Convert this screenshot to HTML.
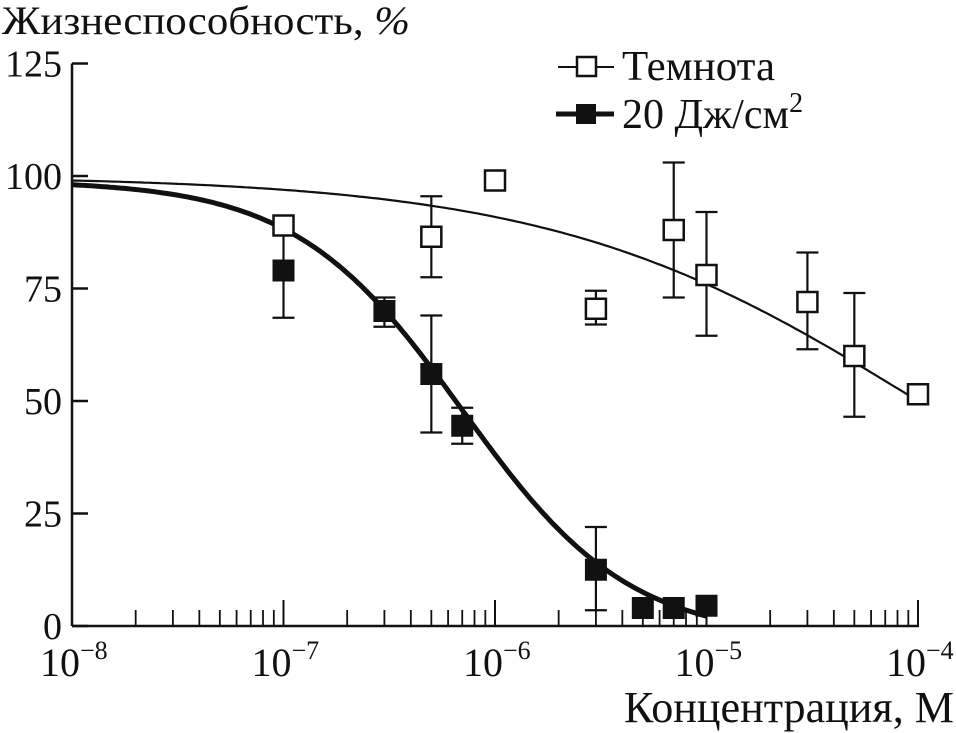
<!DOCTYPE html>
<html><head><meta charset="utf-8"><style>
html,body{margin:0;padding:0;background:#fff;}
svg{display:block;font-family:"Liberation Serif",serif;}
</style></head><body>
<svg id="chart" width="956" height="733" viewBox="0 0 956 733" xmlns="http://www.w3.org/2000/svg">
<text x="2" y="34" font-size="40" fill="#111" textLength="408" lengthAdjust="spacingAndGlyphs">Жизнеспособность, <tspan font-style="italic">%</tspan></text>
<text x="954" y="722" font-size="44" fill="#111" text-anchor="end" textLength="330" lengthAdjust="spacingAndGlyphs">Концентрация, М</text>
<g id="axes"></g>
<g id="curves"></g>
<g id="marks"></g>
<g>
  <g>
    <line x1="558" y1="67" x2="614" y2="67" stroke="#111" stroke-width="2"/>
    <rect x="577" y="57" width="19" height="19" fill="#fff" stroke="#111" stroke-width="2.5"/>
    <text x="622" y="80" font-size="42" fill="#111" textLength="153" lengthAdjust="spacingAndGlyphs">Темнота</text>
  </g>
  <g>
    <line x1="556" y1="114" x2="614" y2="114" stroke="#111" stroke-width="5"/>
    <rect x="576" y="104" width="20" height="20" fill="#111"/>
    <text x="622" y="128" font-size="42" fill="#111">20 Дж/см<tspan font-size="28" dy="-16">2</tspan></text>
  </g>
</g>
</svg>
<script>
const darkX = [1e-7, 5e-7, 1e-6, 3e-6, 7e-6, 1e-5, 3e-5, 5e-5, 1e-4];
const darkY = [89, 86.5, 99, 70.5, 88, 78, 72, 60, 51.5];
const darkLo = [null, 77.5, null, 67, 73, 64.5, 61.5, 46.5, null];
const darkHi = [null, 95.5, null, 74.5, 103, 92, 83, 74, null];
const lightX = [1e-7, 3e-7, 5e-7, 7e-7, 3e-6, 5e-6, 7e-6, 1e-5];
const lightY = [79, 70, 56, 44.5, 12.5, 4, 4, 4.5];
const lightLo = [68.5, 66.5, 43, 40.5, 3.5, null, null, null];
const lightHi = [89, 73, 69, 48.5, 22, null, null, null];
const yTicks = [0, 25, 50, 75, 100, 125];
const xDecades = [-8, -7, -6, -5, -4];

const NS = "http://www.w3.org/2000/svg";
const X0 = 72, X1 = 918, Y0 = 626, PY = 4.5;
const sx = v => X0 + (Math.log10(v) + 8) / 4 * (X1 - X0);
const sy = v => Y0 - v * PY;
function mk(tag, attrs, parent) {
  const e = document.createElementNS(NS, tag);
  for (const k in attrs) e.setAttribute(k, attrs[k]);
  parent.appendChild(e);
  return e;
}
const axes = document.getElementById('axes');
let yl = mk('line', {x1: X0, y1: sy(125), x2: X0, y2: Y0, stroke: '#111', 'stroke-width': 2.5}, axes);


let xl = mk('line', {x1: X0, y1: Y0, x2: X1 + 1, y2: Y0, stroke: '#111', 'stroke-width': 2.5}, axes);


yTicks.forEach(t => {
  mk('line', {x1: X0, y1: sy(t), x2: X0 + 16, y2: sy(t), stroke: '#111', 'stroke-width': 2.5}, axes);
  const tx = mk('text', {x: X0 - 10, y: sy(t) + 13, 'font-size': 38, 'text-anchor': 'end', fill: '#111'}, axes);
  tx.textContent = t;
  
  
});
xDecades.forEach((d, i) => {
  const x = sx(Math.pow(10, d));
  mk('line', {x1: x, y1: Y0, x2: x, y2: Y0 - 26, stroke: '#111', 'stroke-width': 2}, axes);
  const tx = mk('text', {x: x - 32, y: Y0 + 50, 'font-size': 40, fill: '#111'}, axes);
  tx.textContent = '10';
  
  
  const sp = mk('tspan', {'font-size': 26, dy: -17}, tx);
  sp.textContent = '\u2212' + (-d);
  if (i < xDecades.length - 1) {
    for (let m = 2; m <= 9; m++) {
      const xm = sx(m * Math.pow(10, d));
      mk('line', {x1: xm, y1: Y0, x2: xm, y2: Y0 - 16, stroke: '#111', 'stroke-width': 1.8}, axes);
    }
  }
});
const curves = document.getElementById('curves');
function pathFn(f, a, b) {
  let s = '';
  for (let i = 0; i <= 200; i++) {
    const lx = a + (b - a) * i / 200, v = f(Math.pow(10, lx));
    s += (i ? 'L' : 'M') + sx(Math.pow(10, lx)).toFixed(1) + ',' + sy(v).toFixed(1);
  }
  return s;
}
const darkFit = x => 100 / (1 + Math.pow(x / 1.0e-4, 0.5));
const lightFit = x => -3 + 102 / (1 + Math.pow(x / 7e-7, 1.1));
let c1 = mk('path', {d: pathFn(darkFit, -8, -4), fill: 'none', stroke: '#111', 'stroke-width': 2.2}, curves);


let c2 = mk('path', {d: pathFn(lightFit, -8, -5), fill: 'none', stroke: '#111', 'stroke-width': 5}, curves);


const marks = document.getElementById('marks');
function errbar(x, lo, hi) {
  const X = sx(x);
  mk('line', {x1: X, y1: sy(lo), x2: X, y2: sy(hi), stroke: '#111', 'stroke-width': 2.2}, marks);
  [lo, hi].forEach(v => mk('line', {x1: X - 11, y1: sy(v), x2: X + 11, y2: sy(v), stroke: '#111', 'stroke-width': 2.2}, marks));
}
darkX.forEach((x, i) => {
  if (darkLo[i] !== null) errbar(x, darkLo[i], darkHi[i]);
});
lightX.forEach((x, i) => {
  if (lightLo[i] !== null) errbar(x, lightLo[i], lightHi[i]);
});
darkX.forEach((x, i) => {
  const r = mk('rect', {x: sx(x) - 10, y: sy(darkY[i]) - 10, width: 20, height: 20, fill: '#fff', stroke: '#111', 'stroke-width': 2.5}, marks);
  
  
});
lightX.forEach((x, i) => {
  const r = mk('rect', {x: sx(x) - 11, y: sy(lightY[i]) - 11, width: 22, height: 22, fill: '#111'}, marks);
  
  
});
</script>
</body></html>
